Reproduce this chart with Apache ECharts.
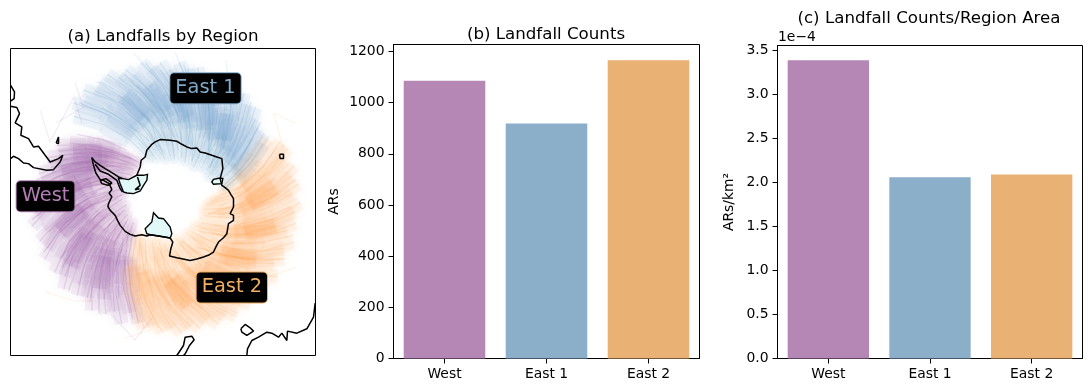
<!DOCTYPE html>
<html><head><meta charset="utf-8">
<style>html,body{margin:0;padding:0;background:#fff}#c{width:1092px;height:392px}</style>
<script src="https://cdn.jsdelivr.net/npm/echarts@6/dist/echarts.min.js"></script>
</head><body><div id="c"></div>
<script>
const regions = ['West','East 1','East 2'];
const barColors = ['#b587b5','#8bafc9','#e9b274'];
const trackColors = ['#a663ab','#6fa6cf','#ffa54f'];
const labelColors = ['#b47cb4','#7fa9c9','#f0ad63'];
const counts = [1085,918,1165];
const countsPerArea = [3.39,2.06,2.09];
const countTicks = [0,200,400,600,800,1000,1200];
const areaTicks = [0,0.5,1,1.5,2,2.5,3,3.5];
const labelPositions = [[136,528],[616,204],[695,801]];

// tracks: [radius, bearing] pairs
const westTracks = [
[[128,192],[100,200],[72,211],[48,222]],[[120,197],[96,206],[70,214],[52,226]],[[133,199],[108,207],[78,218],[44,228]],
[[124,204],[99,212],[68,222],[40,232]],[[130,207],[104,217],[75,226],[50,236]],[[118,211],[92,219],[66,229],[43,240]],
[[134,213],[110,222],[80,231],[54,241]],[[126,218],[98,227],[70,236],[41,246]],[[131,222],[106,230],[76,241],[47,250]],
[[122,225],[95,234],[67,243],[42,254]],[[136,228],[112,237],[82,246],[55,256]],[[127,232],[101,241],[72,250],[39,260]],
[[133,236],[107,245],[78,254],[48,264]],[[121,240],[94,248],[66,258],[43,268]],[[135,243],[110,252],[81,262],[52,272]],
[[128,247],[102,256],[73,265],[40,276]],[[132,251],[105,260],[76,270],[46,280]],[[124,255],[97,263],[69,273],[42,283]],
[[136,258],[113,267],[84,277],[56,287]],[[129,262],[103,271],[74,280],[41,291]],[[133,266],[106,275],[77,284],[47,294]],
[[125,270],[99,278],[70,288],[44,298]],[[131,273],[108,282],[79,292],[53,301]],[[122,277],[96,286],[68,295],[40,305]],
[[128,281],[101,290],[72,299],[46,308]],[[118,285],[93,293],[67,302],[43,312]],[[124,289],[98,297],[71,306],[50,315]],
[[114,292],[90,301],[65,309],[42,318]],[[120,296],[95,304],[70,312],[47,322]],[[110,300],[88,307],[64,315],[44,324]],
[[112,216],[84,226],[58,238]],[[116,234],[86,244],[60,255]],[[110,252],[82,262],[56,274]],[[114,268],[86,279],[58,290]],[[106,284],[80,294],[54,306]],[[102,296],[78,306],[56,316]]
];
const east1Tracks = [
[[122,312],[96,320],[68,329],[42,338]],[[132,316],[106,324],[76,333],[48,343]],[[126,320],[100,328],[72,337],[40,347]],
[[135,323],[110,332],[80,341],[52,351]],[[128,327],[102,336],[74,345],[44,355]],[[133,331],[107,340],[78,349],[38,360]],
[[136,335],[112,343],[84,353],[56,362]],[[129,339],[104,348],[75,357],[42,367]],[[134,343],[108,352],[79,361],[48,371]],
[[127,346],[101,355],[73,364],[40,374]],[[137,350],[113,359],[85,368],[58,377]],[[130,354],[105,363],[76,372],[44,382]],
[[135,358],[109,367],[80,376],[50,385]],[[128,362],[102,371],[74,380],[41,389]],[[136,366],[111,374],[83,383],[55,392]],
[[131,370],[106,378],[77,388],[46,396]],[[134,374],[108,382],[79,391],[52,400]],[[127,378],[101,386],[73,395],[42,403]],
[[133,381],[107,390],[80,398],[56,406]],[[129,385],[103,393],[76,402],[47,410]],[[135,389],[110,397],[82,405],[58,413]],
[[127,393],[102,401],[75,409],[50,416]],[[131,397],[105,404],[78,412],[55,420]],[[124,401],[100,408],[74,416],[48,424]],
[[128,405],[103,412],[78,419],[60,427]],[[120,409],[96,415],[72,422],[52,430]],[[116,413],[94,419],[74,426],[58,432]],
[[118,417],[96,424],[76,431],[60,438]],[[112,421],[92,428],[74,434],[62,440]],
[[110,338],[84,347],[60,358]],[[114,352],[88,362],[62,372]],[[110,366],[84,376],[60,386]],[[112,382],[86,392],[64,402]],[[104,396],[82,405],[62,416]]
];
const east2Tracks = [
[[118,60],[98,66],[76,74],[58,82]],[[128,64],[104,72],[78,81],[50,90]],[[132,68],[108,76],[80,85],[45,95]],
[[125,72],[100,80],[72,89],[42,99]],[[133,76],[110,84],[82,93],[54,103]],[[128,80],[103,88],[74,97],[40,107]],
[[134,84],[108,92],[79,101],[47,110]],[[127,88],[101,96],[73,106],[42,115]],[[135,92],[111,101],[83,110],[56,119]],
[[130,96],[105,105],[76,114],[44,124]],[[133,101],[107,110],[78,118],[48,128]],[[126,105],[100,113],[72,123],[40,133]],
[[136,109],[112,118],[84,127],[54,137]],[[129,113],[103,122],[75,131],[43,141]],[[134,117],[108,126],[79,135],[49,145]],
[[127,121],[101,130],[73,140],[41,149]],[[137,125],[113,134],[85,143],[57,153]],[[131,129],[105,138],[76,148],[45,157]],
[[135,133],[109,142],[80,151],[50,161]],[[128,137],[102,146],[74,155],[42,165]],[[136,141],[112,150],[83,159],[55,169]],
[[130,145],[104,154],[75,163],[44,173]],[[138,149],[113,158],[85,167],[52,177]],[[132,153],[106,162],[77,171],[46,181]],
[[137,157],[111,166],[82,175],[54,185]],[[129,161],[103,170],[74,179],[42,189]],[[135,165],[109,174],[80,183],[50,193]],
[[131,169],[105,178],[76,187],[44,197]],[[136,173],[111,182],[83,191],[56,201]],[[130,177],[104,186],[75,195],[46,205]],
[[134,181],[108,190],[79,199],[52,209]],[[128,185],[102,194],[73,203],[44,213]],[[132,189],[106,197],[78,206],[50,216]],
[[110,84],[84,94],[60,106]],[[114,104],[88,114],[62,126]],[[110,124],[84,134],[60,146]],[[114,146],[88,156],[62,168]],[[110,168],[84,178],[60,190]]
];
const westFine = [[[125,195],[98,203],[70,216]],[[110,205],[84,214],[58,226]],[[132,210],[102,220],[74,231]],[[94,214],[70,226],[46,238]],[[128,216],[100,224],[76,234]],[[116,222],[88,232],[60,245]],[[134,226],[104,235],[80,244]],[[98,230],[72,240],[48,252]],[[124,236],[96,244],[70,256]],[[112,241],[84,250],[60,262]],[[132,246],[106,255],[78,266]],[[92,250],[66,261],[44,274]],[[120,254],[92,264],[68,275]],[[134,261],[104,270],[80,280]],[[108,262],[82,272],[54,285]],[[126,268],[98,276],[74,287]],[[96,274],[70,284],[48,296]],[[130,278],[102,288],[78,298]],[[114,280],[88,290],[60,302]],[[122,287],[94,296],[70,306]],[[100,290],[76,300],[50,312]],[[116,294],[92,302],[68,312]],[[94,302],[72,310],[52,320]],[[108,306],[86,313],[62,321]],[[118,240],[104,246],[90,251]],[[88,222],[74,228],[58,232]],[[86,268],[72,274],[60,281]],[[104,212],[86,220],[72,225]]];
const east1Fine = [[[128,318],[100,326],[74,336]],[[110,325],[86,333],[60,344]],[[134,330],[106,338],[80,348]],[[94,336],[70,346],[46,358]],[[130,342],[102,350],[76,360]],[[116,346],[88,356],[62,368]],[[136,352],[108,360],[82,370]],[[98,354],[74,364],[50,376]],[[128,358],[100,368],[74,378]],[[112,364],[86,372],[60,384]],[[134,368],[106,377],[80,388]],[[92,374],[68,384],[46,396]],[[124,378],[96,388],[72,397]],[[134,386],[106,394],[82,404]],[[108,386],[82,396],[58,408]],[[126,392],[100,400],[76,410]],[[96,396],[74,405],[54,416]],[[128,402],[102,410],[80,418]],[[112,404],[88,412],[66,422]],[[120,412],[98,418],[78,426]],[[104,416],[84,423],[66,430]],[[116,360],[102,364],[88,370]],[[88,344],[74,350],[58,356]],[[86,392],[72,398],[60,406]]];
const east2Fine = [[[122,66],[98,74],[72,84]],[[104,76],[80,86],[56,98]],[[132,82],[106,90],[78,100]],[[92,88],[68,98],[46,110]],[[126,94],[100,102],[74,112]],[[114,100],[88,109],[62,120]],[[134,106],[106,115],[80,125]],[[96,112],[72,122],[48,134]],[[130,118],[102,127],[76,137]],[[110,124],[84,133],[60,146]],[[136,130],[108,139],[82,149]],[[94,136],[68,147],[46,160]],[[128,142],[100,151],[74,162]],[[136,148],[110,157],[84,167]],[[106,152],[80,162],[56,175]],[[130,158],[102,167],[78,178]],[[96,165],[72,175],[50,188]],[[134,170],[106,178],[82,188]],[[116,176],[90,185],[64,197]],[[130,183],[102,192],[78,202]],[[100,186],[76,196],[52,208]],[[126,192],[98,200],[74,210]],[[90,120],[76,126],[62,132]],[[118,130],[104,136],[92,141]],[[86,158],[72,164],[60,170]]];
const strayTracks = [
[0,[[152,305],[128,296],[136,318],[112,312]]],[0,[[146,322],[122,318],[132,305]]],[0,[[128,205],[145,192],[120,186]]],
[1,[[150,24],[128,30],[112,36]]],[1,[[146,4],[128,8],[108,12]]],[1,[[148,348],[125,354]]],
[2,[[150,60],[138,52],[128,68],[112,74]]],[2,[[148,118],[132,126],[118,130]]],[2,[[152,232],[138,222],[124,214]]],[2,[[146,196],[132,186],[118,192]]]
];

// map outlines: x, y in map-panel units
const antarctica = [[275,412],[280,435],[287,458],[300,478],[310,480],[327,490],[335,508],[327,518],[335,530],[327,545],[323,558],[330,570],[345,585],[352,600],[360,615],[375,633],[390,642],[405,647],[425,643],[440,647],[450,643],[475,647],[510,653],[518,665],[512,685],[508,707],[530,712],[545,715],[570,720],[590,716],[610,710],[628,703],[640,695],[648,678],[655,665],[670,652],[680,640],[683,622],[685,610],[700,600],[700,585],[690,580],[700,560],[700,535],[692,522],[685,510],[675,502],[665,495],[660,475],[664,460],[668,445],[665,415],[650,410],[635,405],[615,398],[600,395],[590,383],[575,385],[560,380],[545,372],[530,363],[510,360],[480,358],[465,365],[455,372],[440,390],[435,410],[423,420],[420,440],[410,465]];
const peninsulaEast = [[275,412],[285,425],[300,435],[315,445],[340,460],[355,470],[368,475]];
const peninsulaInner = [[285,432],[300,452],[325,462],[350,480],[360,505],[367,515]];
const alexander = [[300,480],[317,475],[335,488],[323,495],[305,490],[300,480]];
const berkner = [[412,470],[420,495],[405,508],[418,505]];
const southAmerica1 = [[31,195],[43,215],[42,235],[31,243]];
const southAmerica2 = [[31,258],[50,262],[58,280],[45,308],[65,320],[62,345],[85,355],[100,380],[115,378],[135,405],[150,425],[175,415],[188,405],[180,425],[160,448],[140,450],[100,442],[85,430],[70,428],[55,415],[40,408],[31,415]];
const islandA = [[168,368],[175,350],[180,355],[175,370],[168,368]];
const islandB = [[838,402],[850,402],[850,415],[840,415],[838,402]];
const nzSouth = [[530,1005],[550,975],[555,950],[575,947],[582,958],[568,975],[555,1000],[550,1005]];
const islandC = [[722,925],[735,912],[750,922],[760,932],[740,945],[725,935],[722,925]];
const australia = [[740,1005],[742,985],[755,960],[775,950],[800,935],[815,938],[835,950],[845,938],[860,960],[862,932],[890,938],[920,925],[940,890],[945,848]];
const outlines = [antarctica,peninsulaEast,peninsulaInner,alexander,berkner,southAmerica1,southAmerica2,islandA,islandB,nzSouth,islandC,australia];
const ronne = [[368,475],[385,478],[410,465],[430,465],[442,462],[440,480],[430,495],[420,512],[400,520],[380,518],[370,515],[360,490],[355,475]];
const ross = [[435,625],[455,605],[460,577],[475,593],[490,595],[510,620],[515,640],[510,653],[475,647],[450,643],[440,640]];
const amery = [[635,485],[640,477],[660,473],[668,475],[665,490],[640,492]];
const shelves = [ronne,ross,amery];

const font = 'DejaVu Sans';
const series = [];
function addTracks(list, i, width, op, blur, cap){
  list.forEach(t => series.push({type:'line',coordinateSystem:'polar',polarIndex:0,data:t,showSymbol:false,silent:true,z:1,
    lineStyle:{color:trackColors[i],width,opacity:op,cap:cap||'round',join:'round',shadowBlur:blur,shadowColor:trackColors[i]}}));
}
[westTracks,east1Tracks,east2Tracks].forEach((t,i)=>{
  addTracks(t.map(x=>x.slice(0,2)),i,14,0.085,8,'butt');
  addTracks(t.map(x=>x.slice(-3,-1)),i,18,0.085,6,'butt');
  addTracks(t.map(x=>x.slice(-2)),i,10,0.06,6);
});
[westTracks,east1Tracks,east2Tracks].forEach((t,i)=>addTracks(t,i,1.2,0.2,0));
[westFine,east1Fine,east2Fine].forEach((t,i)=>addTracks(t,i,1.2,0.22,0));
strayTracks.forEach(s => addTracks([s[1]],s[0],1.2,0.12,0));
series.push({type:'custom',xAxisIndex:0,yAxisIndex:0,z:3,silent:true,data:shelves.map((_,i)=>[i]),
  renderItem:(p,api)=>({type:'polygon',shape:{points:shelves[p.dataIndex].map(c=>api.coord(c))},style:{fill:'#e0f8f8',stroke:'#000',lineWidth:1.4}})});
outlines.forEach(o => series.push({type:'line',xAxisIndex:0,yAxisIndex:0,data:o,showSymbol:false,silent:true,z:4,lineStyle:{color:'#000',width:1.5}}));
series.push({type:'scatter',xAxisIndex:0,yAxisIndex:0,z:6,silent:true,symbolSize:1,itemStyle:{color:'rgba(0,0,0,0)',opacity:1},
  data:regions.map((r,i)=>({name:r,value:labelPositions[i],label:{color:labelColors[i],borderColor:labelColors[i]}})),
  label:{show:true,position:'inside',formatter:'{b}',fontFamily:font,fontSize:19.4,backgroundColor:'#000',borderWidth:1,borderRadius:4,padding:[6,5,5,5]}});
series.push({type:'bar',xAxisIndex:1,yAxisIndex:1,barWidth:'80%',data:counts.map((v,i)=>({value:v,itemStyle:{color:barColors[i]}}))});
series.push({type:'bar',xAxisIndex:2,yAxisIndex:2,barWidth:'80%',data:countsPerArea.map((v,i)=>({value:v,itemStyle:{color:barColors[i]}}))});

const axisLine = {show:true,onZero:false,lineStyle:{color:'#000',width:1}};
const tick = {show:true,length:5,lineStyle:{color:'#000',width:1}};
const gridBox = (left,top,width,height)=>({left,top,width,height,show:true,borderColor:'#000',borderWidth:1,backgroundColor:'transparent'});
const catAxis = i => ({type:'category',gridIndex:i,data:regions,axisLine,axisTick:{...tick,alignWithLabel:true},splitLine:{show:false},
  axisLabel:{color:'#000',fontFamily:font,fontSize:13.9,margin:9}});
const valAxis = (i,max,ticks,name,fmt,gap) => ({type:'value',gridIndex:i,min:0,max,name,nameLocation:'middle',nameGap:gap,
  nameTextStyle:{color:'#000',fontFamily:font,fontSize:13.9},axisLine,splitLine:{show:false},
  axisTick:{...tick,customValues:ticks},axisLabel:{color:'#000',fontFamily:font,fontSize:13.9,margin:9,customValues:ticks,formatter:fmt}});
const titleStyle = {fontFamily:font,fontSize:16.67,fontWeight:'normal',color:'#000'};

const option = {
  animation:false,backgroundColor:'#fff',
  title:[
    {text:'(a) Landfalls by Region',left:158,top:23,textAlign:'center',textStyle:titleStyle},
    {text:'(b) Landfall Counts',left:541,top:21,textAlign:'center',textStyle:titleStyle},
    {text:'(c) Landfall Counts/Region Area',left:924,top:5,textAlign:'center',textStyle:titleStyle},
    {text:'1e\u22124',left:773,top:25,textStyle:{fontFamily:font,fontSize:13.9,fontWeight:'normal',color:'#000'}}
  ],
  polar:{center:[165,198],radius:160},
  radiusAxis:{min:0,max:160,show:false},
  angleAxis:{min:0,max:360,startAngle:90,show:false},
  grid:[gridBox(10.5,48.5,305,307),gridBox(393.5,44.5,306,314),gridBox(777.5,45.5,305,313)],
  xAxis:[{type:'value',gridIndex:0,min:31,max:946,show:false},catAxis(1),catAxis(2)],
  yAxis:[{type:'value',gridIndex:0,min:85,max:1005,inverse:true,show:false},
    valAxis(1,1227,countTicks,'ARs',v=>String(v),52),
    valAxis(2,3.557,areaTicks,'ARs/km\u00b2',v=>v.toFixed(1),41)],
  series
};
echarts.init(document.getElementById('c'),null,{renderer:'canvas'}).setOption(option);
</script></body></html>
